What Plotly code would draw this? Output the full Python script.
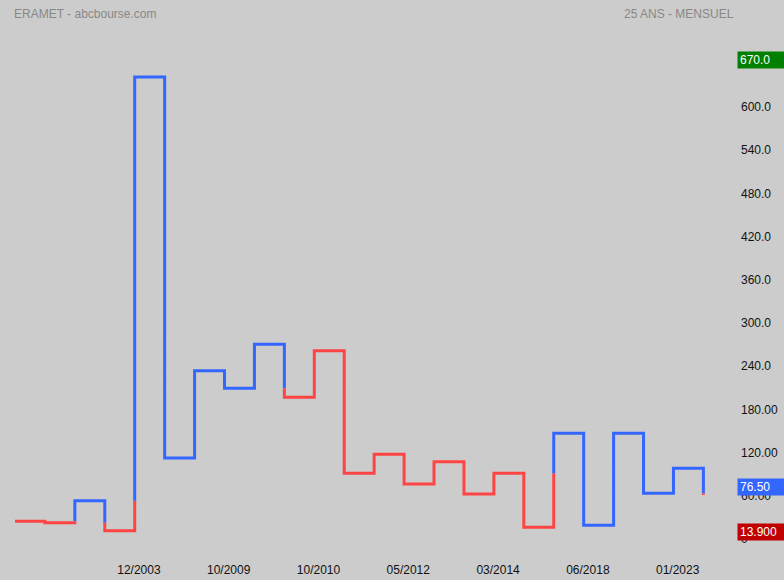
import plotly.graph_objects as go

# Kagi levels (successive turning levels)
levels = [24.6, 22.6, 53.2, 11.5, 641.7, 112.5, 233.8, 209.3, 270.4, 196.8,
          261.5, 91.2, 117.6, 76.4, 107.4, 62.5, 91.2, 16.2, 146.8, 19.0,
          146.8, 63.4, 98.2, 61.1]

x_tick_pos = [4, 7, 10, 13, 16, 19, 22]
x_tick_text = ["12/2003", "10/2009", "10/2010", "05/2012", "03/2014", "06/2018", "01/2023"]

y_tick_vals = [0, 60, 120, 180, 240, 300, 360, 420, 480, 540, 600]
y_tick_text = ["0", "60.00", "120.00", "180.00", "240.0", "300.0", "360.0", "420.0", "480.0", "540.0", "600.0"]

last_high = 670.0
last_close = 76.50
last_low = 13.900

BLUE = "#3366ff"
RED = "#ff4444"

# Build coloured kagi path
segments = []  # list of (color, [(x,y),...])
color = RED
cur = [(0, levels[0]), (1, levels[0])]
for i in range(1, len(levels)):
    prev, new = levels[i - 1], levels[i]
    ref = levels[i - 2] if i >= 2 else None
    k = i
    if new > prev and color == RED and ref is not None and new > ref:
        cur.append((k, ref))
        segments.append((color, cur))
        color = BLUE
        cur = [(k, ref), (k, new)]
    elif new < prev and color == BLUE and ref is not None and new < ref:
        cur.append((k, ref))
        segments.append((color, cur))
        color = RED
        cur = [(k, ref), (k, new)]
    else:
        cur.append((k, new))
    if i < len(levels) - 1:
        cur.append((k + 1, new))
segments.append((color, cur))

fig = go.Figure()
for c, pts in segments:
    fig.add_trace(go.Scatter(
        x=[p[0] for p in pts], y=[p[1] for p in pts],
        mode="lines", line=dict(color=c, width=3),
        hoverinfo="skip", showlegend=False))

FONT = "Liberation Sans, Arial, sans-serif"
tick_offset = 0.14

fig.update_layout(
    width=784, height=580,
    margin=dict(l=0, r=48, t=0, b=30),
    paper_bgcolor="#cccccc", plot_bgcolor="#cccccc",
    font=dict(family=FONT, size=12, color="#111111"),
    xaxis=dict(range=[-15 / 29.93, (736 - 15) / 29.93],
               tickvals=[v + tick_offset for v in x_tick_pos], ticktext=x_tick_text,
               showgrid=False, zeroline=False, showline=False, ticks="",
               ticklabelstandoff=11, fixedrange=True),
    yaxis=dict(range=[(539 - 550) / 0.72, 539 / 0.72], side="right",
               tickvals=y_tick_vals, ticktext=y_tick_text,
               showgrid=False, zeroline=False, showline=False, ticks="",
               ticklabelstandoff=4, fixedrange=True),
)

fig.add_annotation(xref="paper", yref="paper", x=0, y=1, xanchor="left", yanchor="middle",
                   xshift=12, yshift=-13.5, text="ERAMET - abcbourse.com", showarrow=False,
                   font=dict(size=12, color="#888888", family=FONT))
fig.add_annotation(xref="paper", yref="paper", x=1, y=1, xanchor="right", yanchor="middle",
                   xshift=0, yshift=-13.5, text="25 ANS - MENSUEL", showarrow=False,
                   font=dict(size=12, color="#888888", family=FONT))

for val, txt, bg in [(last_high, "670.0", "#008000"),
                     (last_close, "76.50", BLUE),
                     (last_low, "13.900", "#c00000")]:
    fig.add_annotation(xref="paper", yref="y", x=1, y=val, xanchor="left", yanchor="middle",
                       xshift=1, yshift=-3.5, text=txt, showarrow=False, align="left",
                       width=43, height=12, bgcolor=bg, borderpad=2,
                       font=dict(size=12, color="#ffffff", family=FONT))

fig.write_html(
    "out.html",
    config={"displayModeBar": False, "staticPlot": True},
    post_script="document.body.style.margin='0';document.body.style.background='#cccccc';"
                "document.body.style.overflow='hidden';",
)
